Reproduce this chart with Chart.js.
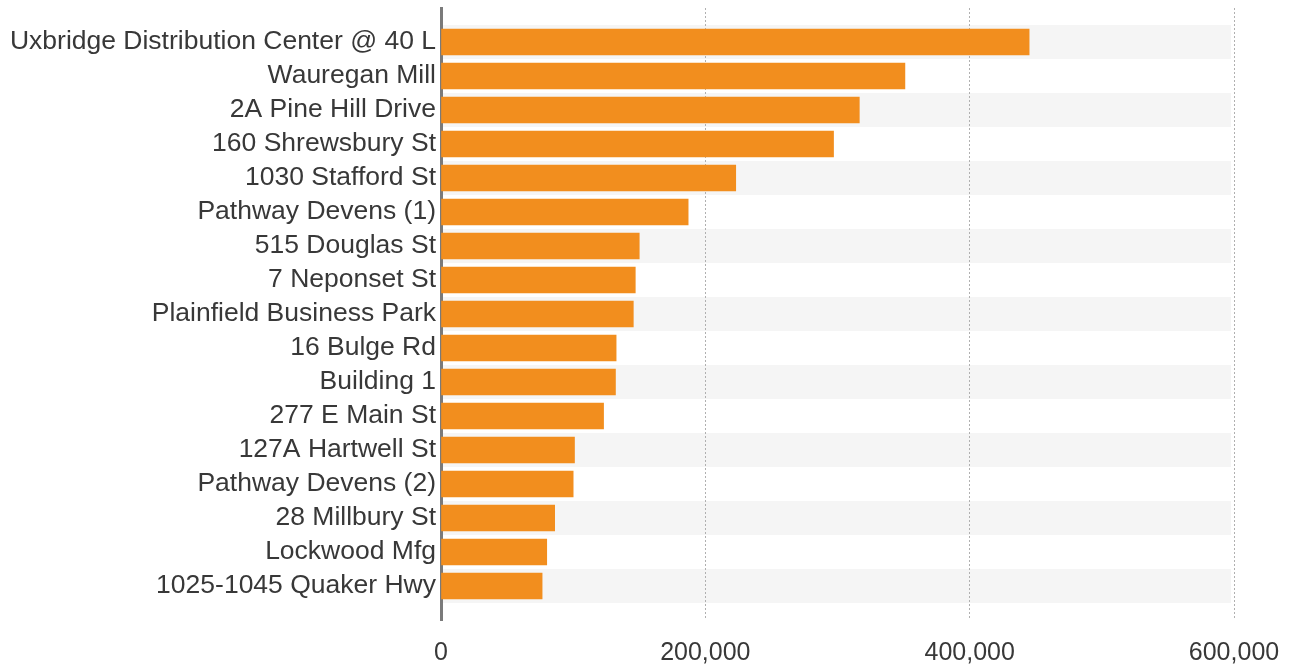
<!DOCTYPE html>
<html>
<head>
<meta charset="utf-8">
<script src="https://cdn.jsdelivr.net/npm/chart.js@4/dist/chart.umd.min.js"></script>
<style>
  html, body { margin: 0; padding: 0; background: #fff; }
  #wrap { width: 1301px; height: 667px; }
</style>
</head>
<body>
<div id="wrap"><canvas id="sqftChart"></canvas></div>
<script>
// Building list, largest first
const buildings = [
  "Uxbridge Distribution Center @ 40 L",
  "Wauregan Mill",
  "2A Pine Hill Drive",
  "160 Shrewsbury St",
  "1030 Stafford St",
  "Pathway Devens (1)",
  "515 Douglas St",
  "7 Neponset St",
  "Plainfield Business Park",
  "16 Bulge Rd",
  "Building 1",
  "277 E Main St",
  "127A Hartwell St",
  "Pathway Devens (2)",
  "28 Millbury St",
  "Lockwood Mfg",
  "1025-1045 Quaker Hwy",
];
const squareFeet = [
  445000, 351000, 316500, 297000, 223000, 187000, 150000, 147000,
  145500, 132500, 132000, 123000, 101000, 100000, 86000, 80000, 76500,
];
const xTicks = [0, 200000, 400000, 600000];

const BAR_COLOR = "#F28E1E";
const BAND_COLOR = "#F5F5F5";
const TEXT_COLOR = "#383838";

// alternating row shading behind the bars
const rowBands = {
  id: "rowBands",
  beforeDraw(chart) {
    const { ctx, chartArea, scales } = chart;
    ctx.save();
    ctx.fillStyle = BAND_COLOR;
    buildings.forEach((_, i) => {
      if (i % 2 !== 0) return;
      const top = scales.y.getPixelForValue(i - 0.5);
      const bottom = scales.y.getPixelForValue(i + 0.5);
      ctx.fillRect(chartArea.left, top, chartArea.right - 3 - chartArea.left, bottom - top);
    });
    ctx.restore();
  },
};

const ctx = document.getElementById("sqftChart").getContext("2d");
new Chart(ctx, {
  type: "bar",
  data: {
    datasets: [
      {
        label: "Square feet",
        data: squareFeet.map((v, i) => ({ x: v, y: i })),
        backgroundColor: BAR_COLOR,
        borderWidth: 0,
        barThickness: 26,
      },
    ],
  },
  plugins: [rowBands],
  options: {
    indexAxis: "y",
    responsive: true,
    maintainAspectRatio: false,
    animation: false,
    layout: { padding: { top: 8, right: 67, bottom: 0, left: 0 } },
    plugins: {
      legend: { display: false },
      tooltip: { enabled: false },
    },
    scales: {
      x: {
        type: "linear",
        min: xTicks[0],
        max: xTicks[xTicks.length - 1],
        afterBuildTicks: (scale) => {
          scale.ticks = xTicks.map((v) => ({ value: v }));
        },
        afterFit: (scale) => {
          scale.height = 47;
        },
        grid: {
          color: "#b0b0b0",
          lineWidth: 1,
          drawTicks: false,
        },
        border: { display: false, dash: [2, 2] },
        ticks: {
          padding: 18,
          color: TEXT_COLOR,
          font: { family: "'Liberation Sans', Arial, sans-serif", size: 25 },
          callback: (v) => v.toLocaleString("en-US"),
        },
      },
      y: {
        type: "linear",
        offset: false,
        min: -1,
        max: buildings.length,
        reverse: true,
        afterBuildTicks: (scale) => {
          scale.ticks = buildings.map((_, i) => ({ value: i }));
        },
        afterFit: (scale) => {
          scale.width = 441;
          scale.paddingTop = 0;
          scale.paddingBottom = 0;
        },
        grid: { display: false, drawTicks: false },
        border: { display: true, color: "#7a7a7a", width: 3 },
        ticks: {
          autoSkip: false,
          padding: 5,
          color: TEXT_COLOR,
          font: { family: "'Liberation Sans', Arial, sans-serif", size: 26.5 },
          callback: (v) => buildings[v] ?? "",
        },
      },
    },
  },
});
</script>
</body>
</html>
